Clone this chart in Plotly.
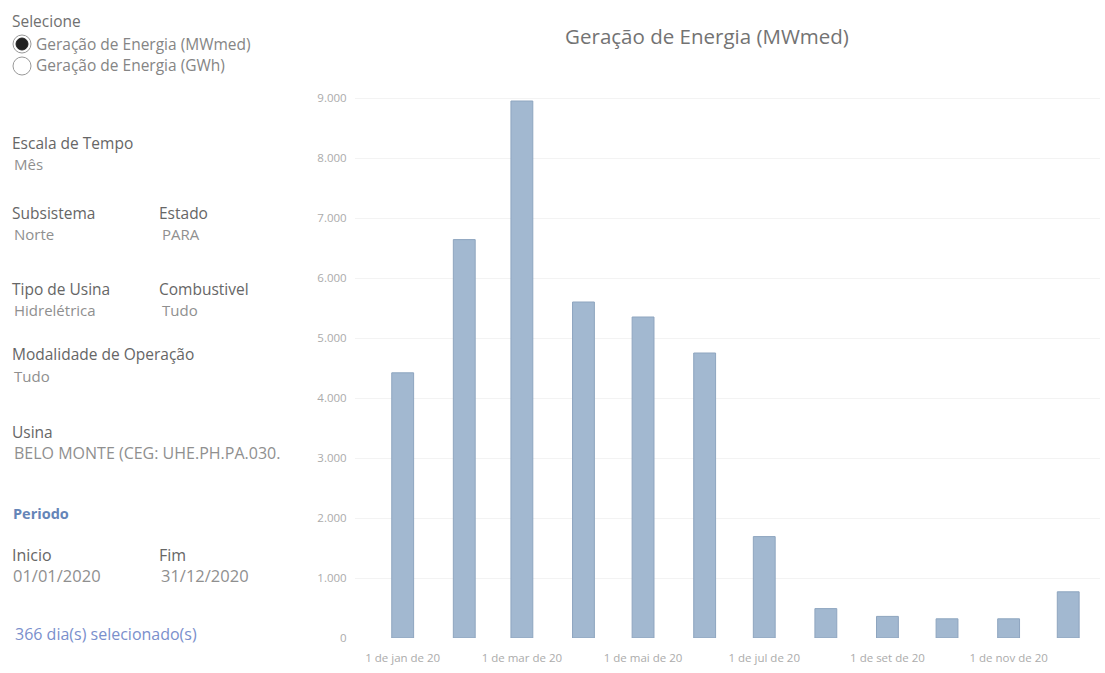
import plotly.graph_objects as go

# ---- data ----
months = ["2020-01-01", "2020-02-01", "2020-03-01", "2020-04-01", "2020-05-01", "2020-06-01",
          "2020-07-01", "2020-08-01", "2020-09-01", "2020-10-01", "2020-11-01", "2020-12-01"]
geracao_mwmed = [4420, 6640, 8950, 5600, 5350, 4750, 1690, 490, 360, 320, 320, 770]
xtick_vals = ["2020-01-01", "2020-03-01", "2020-05-01", "2020-07-01", "2020-09-01", "2020-11-01"]
xtick_text = ["1 de jan de 20", "1 de mar de 20", "1 de mai de 20",
              "1 de jul de 20", "1 de set de 20", "1 de nov de 20"]
ytick_vals = [0, 1000, 2000, 3000, 4000, 5000, 6000, 7000, 8000, 9000]

W, H = 1105, 673
L, R, T, B = 355, 5, 86, 35
PW, PH = W - L - R, H - T - B

def px(x):
    return (x - L) / PW

def py(y):
    return (H - B - y) / PH

FONT = "Open Sans"
fig = go.Figure()
fig.add_trace(go.Bar(
    x=months, y=geracao_mwmed,
    width=11 * 86400000,
    marker=dict(color="#a2b8d0", line=dict(color="#8ea5bf", width=1)),
    hoverinfo="x+y",
))

fig.update_layout(
    width=W, height=H,
    margin=dict(l=L, r=R, t=T, b=B, pad=0),
    paper_bgcolor="white", plot_bgcolor="white",
    separators=",.",
    showlegend=False,
    font=dict(family=FONT, color="#666"),
    title=dict(text="Geração de Energia (MWmed)", x=707 / W, xanchor="center",
               y=1 - 37 / H, yanchor="middle",
               font=dict(size=20.5, color="#737373", family=FONT)),
    xaxis=dict(type="date", range=["2019-12-08", "2020-12-17"],
               tickvals=xtick_vals, ticktext=xtick_text,
               tickfont=dict(size=11.5, color="#ababab"), showgrid=False, zeroline=False,
               showline=False, ticks="outside", ticklen=9, tickcolor="rgba(0,0,0,0)"),
    yaxis=dict(range=[0, 9200], tickvals=ytick_vals, tickformat=",d",
               tickfont=dict(size=11.5, color="#ababab"), showgrid=True, gridcolor="#f3f3f3",
               zeroline=False, showline=False, ticks="outside", ticklen=5,
               tickcolor="rgba(0,0,0,0)"),
)

def txt(x, y, s, size=14, color="#666", bold=False):
    fig.add_annotation(x=px(x), y=py(y), xref="paper", yref="paper", text=("<b>%s</b>" % s) if bold else s,
                       showarrow=False, xanchor="left", yanchor="middle",
                       font=dict(size=size, color=color, family=FONT))

LAB = "#666"
VAL = "#8f8f8f"
txt(10, 21, "Selecione", 15.5, "#707070")
txt(34, 44, "Geração de Energia (MWmed)", 15.5, "#858585")
txt(34, 65, "Geração de Energia (GWh)", 15.5, "#858585")
txt(10, 143, "Escala de Tempo", 15.5, LAB)
txt(12, 164, "Mês", 15, VAL)
txt(10, 213, "Subsistema", 15.5, LAB)
txt(157, 213, "Estado", 15.5, LAB)
txt(12, 234, "Norte", 15, VAL)
txt(160, 234, "PARA", 15, VAL)
txt(10, 289, "Tipo de Usina", 15.5, LAB)
txt(157, 289, "Combustivel", 15.5, LAB)
txt(12, 310, "Hidrelétrica", 15, VAL)
txt(160, 310, "Tudo", 15, VAL)
txt(10, 354, "Modalidade de Operação", 15.5, LAB)
txt(12, 376, "Tudo", 15, VAL)
txt(10, 432, "Usina", 15.5, LAB)
txt(12, 453, "BELO MONTE (CEG: UHE.PH.PA.030.", 16, VAL)
txt(11, 513, "Periodo", 14.5, "#6585b8", bold=True)
txt(10, 555, "Inicio", 16, LAB)
txt(157, 555, "Fim", 16, LAB)
txt(11, 575, "01/01/2020", 16.5, VAL)
txt(159, 575, "31/12/2020", 16.5, VAL)
txt(13, 634, "366 dia(s) selecionado(s)", 16, "#7a8fcc")

def circle(cx, cy, r, fill, line):
    fig.add_shape(type="circle", xref="paper", yref="paper",
                  x0=px(cx - r), x1=px(cx + r), y0=py(cy + r), y1=py(cy - r),
                  fillcolor=fill, line=dict(color=line, width=1))

circle(22, 44, 9, "white", "#999")
circle(22, 44, 6, "#222", "#222")
circle(22, 66, 9, "white", "#999")

fig.write_html("out.html")
